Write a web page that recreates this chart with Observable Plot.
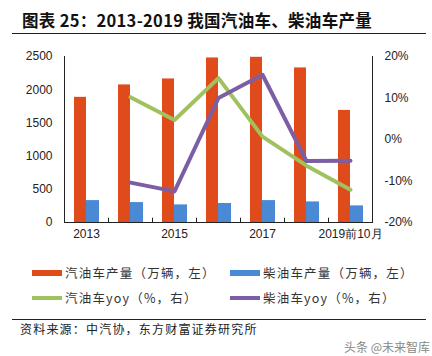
<!DOCTYPE html>
<html>
<head>
<meta charset="utf-8">
<script src="https://cdn.jsdelivr.net/npm/d3@7"></script>
<script src="https://cdn.jsdelivr.net/npm/@observablehq/plot@0.6"></script>
<style>
  html, body { margin: 0; padding: 0; background: #fff; }
  #wrap { position: relative; width: 432px; height: 356px; overflow: hidden; font-family: "Noto Sans CJK SC", "Liberation Sans", sans-serif; }
  #title { position: absolute; left: 22px; top: 8px; font-size: 16.5px; font-weight: bold; color: #111; white-space: nowrap; letter-spacing: 0.3px; }
  .hr { position: absolute; left: 12px; width: 414px; height: 1px; background: #222; }
  #chart { position: absolute; left: 0; top: 40px; }
  .leg { position: absolute; font-size: 12.5px; color: #333; white-space: nowrap; display: flex; align-items: center; letter-spacing: 1.2px; }
  .sw { display: inline-block; width: 30px; margin-right: 3px; }
  #source { position: absolute; left: 20px; top: 320px; font-size: 12px; color: #222; letter-spacing: 1.2px; white-space: nowrap; }
  #wm { position: absolute; left: 344px; top: 338px; font-size: 12px; color: #888; white-space: nowrap; }
</style>
</head>
<body>
<div id="wrap">
  <div id="title">图表 25：2013-2019 我国汽油车、柴油车产量</div>
  <div class="hr" style="top:33px"></div>
  <div id="chart"></div>
  <div id="legend"></div>
  <div class="hr" style="top:319px"></div>
  <div id="source">资料来源：中汽协，东方财富证券研究所</div>
  <div id="wm">头条 @未来智库</div>
</div>
<script>
// ---- data ----
const years = ["2013", "2014", "2015", "2016", "2017", "2018", "2019前10月"];
const gasolineOutput = [1885, 2072, 2162, 2478, 2488, 2328, 1688];   // 万辆
const dieselOutput = [330, 300, 265, 286, 330, 310, 250];            // 万辆
const gasolineYoy = [null, 10.2, 4.7, 14.8, 0.7, -6.3, -12.1];       // %
const dieselYoy = [null, -10.4, -12.5, 10.0, 15.6, -5.2, -5.1];      // %
const leftTicks = [0, 500, 1000, 1500, 2000, 2500];
const rightTicks = [-20, -10, 0, 10, 20];
const shownYears = ["2013", "2015", "2017", "2019前10月"];
const seriesNames = ["汽油车产量（万辆，左）", "柴油车产量（万辆，左）", "汽油车yoy（%，右）", "柴油车yoy（%，右）"];
const colors = ["#E04B1C", "#4A8AD5", "#A0C25E", "#7B5EA3"];

// ---- scale mapping for the right axis ----
const leftMax = 2500, rMin = -20, rMax = 20;
const toLeft = v => (v - rMin) / (rMax - rMin) * leftMax;
const fromLeft = y => y / leftMax * (rMax - rMin) + rMin;

const W = 432, H = 205, mL = 64, mR = 60, mT = 16, mB = 23;
const bw = (W - mL - mR) / years.length;

const bars = years.map((y, i) => ({year: y, gas: gasolineOutput[i], dsl: dieselOutput[i]}));
const gLine = years.map((y, i) => ({year: y, v: gasolineYoy[i]})).filter(d => d.v != null);
const dLine = years.map((y, i) => ({year: y, v: dieselYoy[i]})).filter(d => d.v != null);

const chart = Plot.plot({
  width: W, height: H,
  marginLeft: mL, marginRight: mR, marginTop: mT, marginBottom: mB,
  style: {fontFamily: "'Liberation Sans', Arial, sans-serif", fontSize: "12px", color: "#222", background: "transparent"},
  x: {type: "band", domain: years, padding: 0},
  y: {domain: [0, leftMax]},
  marks: [
    Plot.barY(bars, {x: "year", y: "gas", fill: colors[0], insetLeft: 10, insetRight: bw - 22}),
    Plot.barY(bars, {x: "year", y: "dsl", fill: colors[1], insetLeft: 22, insetRight: bw - 35}),
    Plot.line(gLine, {x: "year", y: d => toLeft(d.v), stroke: colors[2], strokeWidth: 4, strokeLinejoin: "round"}),
    Plot.line(dLine, {x: "year", y: d => toLeft(d.v), stroke: colors[3], strokeWidth: 4, strokeLinejoin: "round"}),
    // category boundary ticks (pointing up from baseline)
    Plot.ruleX(years.slice(1), {x: d => d, y1: 0, y2: 65, dx: -bw / 2, stroke: "#222", strokeWidth: 1}),
    Plot.ruleY([0], {stroke: "#222", strokeWidth: 1.2}),
    Plot.axisY(leftTicks, {anchor: "left", tickSize: 0, tickPadding: 12, fontSize: 12, label: null, tickFormat: d => String(d)}),
    Plot.axisY(rightTicks.map(toLeft), {anchor: "right", tickSize: 0, tickPadding: 12, fontSize: 12, label: null,
      tickFormat: d => Math.round(fromLeft(d)) + "%"}),
    Plot.axisX(shownYears, {tickSize: 0, tickPadding: 7, fontSize: 12, label: null}),
    Plot.frame({anchor: "left", stroke: "#222"}),
    Plot.frame({anchor: "right", stroke: "#222"})
  ]
});
document.getElementById("chart").appendChild(chart);

// ---- legend ----
const legend = document.getElementById("legend");
const pos = [[32, 263], [230, 263], [32, 288], [230, 288]];
seriesNames.forEach((name, i) => {
  const d = document.createElement("div");
  d.className = "leg";
  d.style.left = pos[i][0] + "px";
  d.style.top = pos[i][1] + "px";
  const sw = document.createElement("span");
  sw.className = "sw";
  sw.style.height = (i < 2 ? 6 : 4) + "px";
  sw.style.background = colors[i];
  d.appendChild(sw);
  d.appendChild(document.createTextNode(name));
  legend.appendChild(d);
});
</script>
</body>
</html>
